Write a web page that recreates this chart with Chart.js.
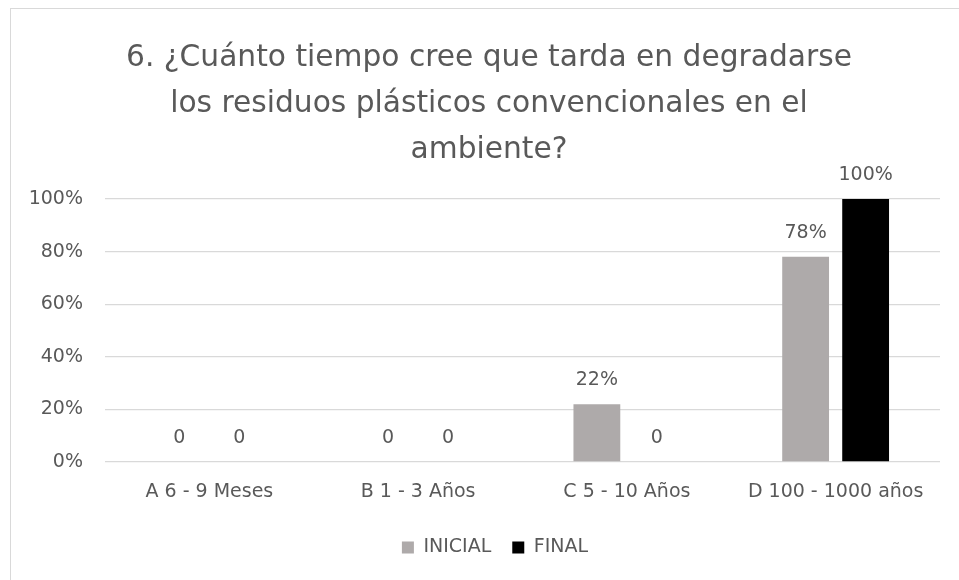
<!DOCTYPE html>
<html>
<head>
<meta charset="utf-8">
<script src="https://cdn.jsdelivr.net/npm/chart.js@4"></script>
<style>
  html, body { margin: 0; padding: 0; background: #ffffff; overflow: hidden; }
  #frame { position: absolute; left: 10px; top: 8px; width: 956px; height: 578px; border: 1px solid #d9d9d9; background: #fff; }
  #frame canvas { display: block; }
</style>
</head>
<body>
<div id="frame"><canvas id="c" width="956" height="578"></canvas></div>
<script>
const titleLines = [
  "6. ¿Cuánto tiempo cree que tarda en degradarse",
  "los residuos plásticos convencionales en el",
  "ambiente?"
];
const categories = ["A 6 - 9 Meses", "B 1 - 3 Años", "C 5 - 10 Años", "D 100 - 1000 años"];
const inicialValues = [0, 0, 0.22, 0.78];
const finalValues = [0, 0, 0, 1.00];
const seriesNames = ["INICIAL", "FINAL"];
const yTicks = [0, 0.2, 0.4, 0.6, 0.8, 1.0];

const FONT = "'DejaVu Sans', sans-serif";
const TEXT = "#595959";

const dataLabelPlugin = {
  id: 'dataLabels',
  afterDatasetsDraw(chart) {
    const ctx = chart.ctx;
    ctx.save();
    ctx.font = "19px " + FONT;
    ctx.fillStyle = TEXT;
    ctx.textAlign = 'center';
    ctx.textBaseline = 'middle';
    chart.data.datasets.forEach((ds, di) => {
      const meta = chart.getDatasetMeta(di);
      meta.data.forEach((bar, i) => {
        const v = ds.data[i];
        const txt = v === 0 ? '0' : Math.round(v * 100) + '%';
        ctx.fillText(txt, bar.x, bar.y - 24);
      });
    });
    ctx.restore();
  }
};

// Center the title over the whole chart frame and nudge the legend like the original.
const blockPlacement = {
  id: 'blockPlacement',
  afterLayout(chart) {
    const t = chart.titleBlock;
    if (t) { t.right = chart.width; t.width = t.right - t.left; }
    const l = chart.legend;
    if (l) { l.left += 19.5; l.right += 19.5; }
  }
};

new Chart(document.getElementById('c'), {
  type: 'bar',
  data: {
    labels: categories,
    datasets: [
      { label: seriesNames[0], data: inicialValues, backgroundColor: '#aeaaaa', categoryPercentage: 0.575, barPercentage: 0.78 },
      { label: seriesNames[1], data: finalValues, backgroundColor: '#000000', categoryPercentage: 0.575, barPercentage: 0.78 }
    ]
  },
  options: {
    responsive: false,
    animation: false,
    devicePixelRatio: 1,
    layout: { padding: { left: 0, right: 27, top: 0, bottom: 20 } },
    plugins: {
      title: {
        display: true,
        text: titleLines,
        color: TEXT,
        font: { family: FONT, size: 29.7, weight: 'normal', lineHeight: 46 / 29.7 },
        padding: { top: 26, bottom: 26 }
      },
      legend: {
        position: 'bottom',
        labels: {
          color: TEXT,
          font: { family: FONT, size: 19 },
          boxWidth: 12,
          boxHeight: 12,
          padding: 21
        }
      },
      tooltip: { enabled: false }
    },
    scales: {
      x: {
        grid: { display: false, drawTicks: false },
        border: { display: false },
        ticks: { color: TEXT, font: { family: FONT, size: 19 }, padding: 19, maxRotation: 0, autoSkip: false },
        afterFit(scale) { scale.height = 55; }
      },
      y: {
        min: 0,
        max: 1,
        afterBuildTicks(scale) { scale.ticks = yTicks.map(v => ({ value: v })); },
        grid: { color: '#d9d9d9', lineWidth: 1.3, drawTicks: false },
        border: { display: false },
        ticks: {
          color: TEXT,
          font: { family: FONT, size: 19 },
          padding: 22,
          callback: (v) => Math.round(v * 100) + '%'
        },
        afterFit(scale) { scale.width = 94; }
      }
    }
  },
  plugins: [dataLabelPlugin, blockPlacement]
});
</script>
</body>
</html>
